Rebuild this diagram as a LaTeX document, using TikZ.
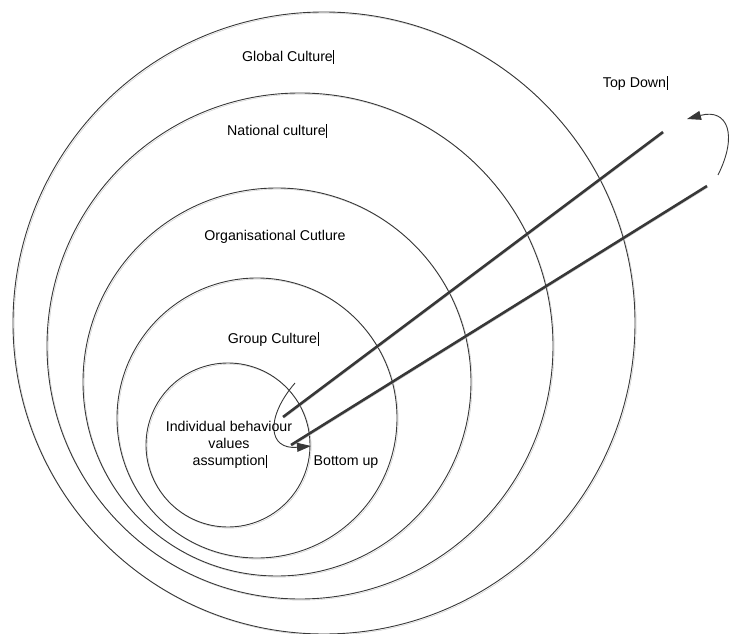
\documentclass[tikz,border=0pt]{standalone}
\usepackage{fontspec}
\setmainfont{Liberation Sans}
\usetikzlibrary{arrows.meta}
\newcommand\caretbar{\kern0.4pt\rule[-2.5pt]{0.55pt}{13.5pt}}
\begin{document}
\begin{tikzpicture}[x=1pt,y=-1pt,
  ink/.style={draw=black!78},
  soft shadow/.style={preaction={draw=black!22, transform canvas={shift={(1.2pt,-1.2pt)}}}},
  ring/.style={ink, line width=0.9pt, soft shadow},
  beam/.style={ink, line width=2.6pt, soft shadow},
  bend arrow/.style={ink, line width=0.9pt, -{Triangle[length=14pt,width=9pt]}},
  lbl/.style={font=\fontsize{14.2}{17}\selectfont, align=center, inner sep=0pt}
]
\useasboundingbox (0,0) rectangle (729,634);
\clip (0,0) rectangle (729,634);

% nested culture levels
\coordinate (cglobal) at (324,323);
\coordinate (cnational) at (300,346);
\coordinate (corg) at (277,382);
\coordinate (cgroup) at (257,418);
\coordinate (cindiv) at (228,445);
\draw[ring] (cglobal) circle[radius=311pt];
\draw[ring] (cnational) circle[radius=253pt];
\draw[ring] (corg) circle[radius=194pt];
\draw[ring] (cgroup) circle[radius=140pt];
\draw[ring] (cindiv) circle[radius=82pt];

% the two long strokes
\coordinate (upper start) at (283,417);
\coordinate (upper end) at (663,132);
\coordinate (lower start) at (291,445);
\coordinate (lower end) at (707,186);
\draw[beam] (upper start) -- (upper end);
\draw[beam] (lower start) -- (lower end);

% turning arrows at both ends
\coordinate (td from) at (718,175);
\coordinate (td to) at (687,119);
\draw[bend arrow] (td from) .. controls (738,135) and (728,108) .. (td to);
\coordinate (bu from) at (295,383);
\coordinate (bu to) at (311,446);
\draw[bend arrow] (bu from) .. controls (265,418) and (268,450) .. (bu to);

% labels
\node[lbl] (global label) at (288,57) {Global Culture\caretbar};
\node[lbl] (national label) at (277,131) {National culture\caretbar};
\node[lbl] (org label) at (275,237) {Organisational Cutlure};
\node[lbl] (group label) at (273,339) {Group Culture\caretbar};
\node[lbl] (indiv label) at (229,445) {Individual behaviour\\values\\assumption\rlap{\caretbar}};
\node[lbl] (bottom label) at (346,462) {Bottom up};
\node[lbl] (top label) at (635,83) {Top Down\caretbar};
\end{tikzpicture}
\end{document}
